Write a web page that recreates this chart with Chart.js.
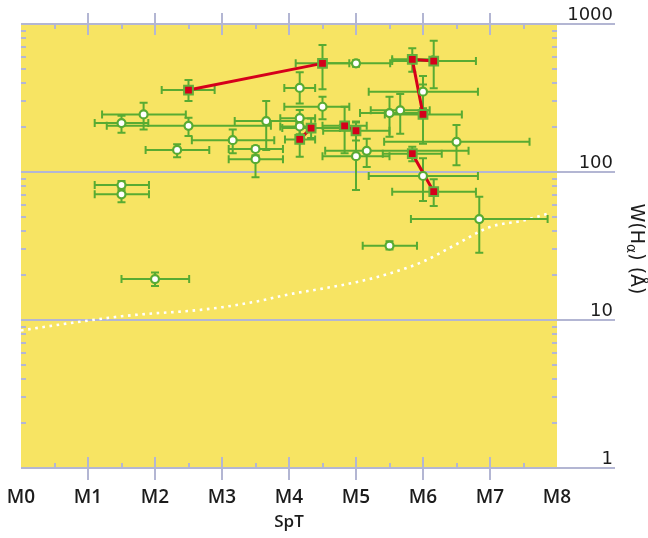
<!DOCTYPE html>
<html>
<head>
<meta charset="utf-8">
<script src="https://cdn.jsdelivr.net/npm/chart.js@4.4.1/dist/chart.umd.min.js"></script>
<style>
  html, body { margin: 0; padding: 0; background: #ffffff; }
  #wrap { width: 648px; height: 538px; }
</style>
</head>
<body>
<div id="wrap"><canvas id="chart" width="648" height="538"></canvas></div>
<script>
// Spectral type axis (M0 ... M8) and equivalent-width axis ticks
const spectralLabels = ['M0', 'M1', 'M2', 'M3', 'M4', 'M5', 'M6', 'M7', 'M8'];
const ewTicks = [1, 10, 100, 1000];

// Single-epoch objects: spectral type, W(Halpha) and their error ranges
const singleSpT   = [1.50, 1.83, 2.50, 2.33, 3.16, 3.50, 3.50, 3.66, 4.16, 4.16, 4.16, 4.50, 5.00, 6.00, 5.50, 5.66, 6.50, 5.16, 5.00, 6.00, 6.84, 5.50, 1.50, 1.50, 2.00];
const singleSpTLo = [1.10, 1.21, 1.28, 1.86, 2.55, 3.10, 3.10, 3.19, 3.93, 3.87, 3.87, 3.93, 4.49, 5.19, 5.06, 5.22, 5.42, 4.54, 4.50, 5.19, 5.82, 5.10, 1.10, 1.10, 1.50];
const singleSpTHi = [1.90, 2.46, 3.73, 2.81, 3.78, 3.91, 3.91, 4.11, 4.39, 4.39, 4.39, 4.90, 5.51, 6.82, 5.94, 6.10, 7.59, 6.68, 5.50, 6.82, 7.86, 5.91, 1.91, 1.91, 2.51];
const singleEW    = [214, 245, 205, 141, 164, 143, 122, 221, 370, 231, 203, 276, 542, 349, 250, 261, 160, 139, 128, 94, 48.1, 31.8, 81.7, 70.7, 18.9];
const singleEWLo  = [184, 194, 175, 126, 134, 130, 92, 141, 290, 205, 180, 227, 515, 270, 173, 181, 111, 108, 75.5, 63.7, 28.5, 30.0, 77.0, 62.4, 17.0];
const singleEWHi  = [240, 294, 233, 154, 194, 150, 128, 302, 472, 262, 229, 323, 570, 445, 323, 337, 208, 168, 216, 124, 68.0, 34.0, 87.0, 75.0, 20.9];

// Multi-epoch objects (joined by red tracks)
const multiSpT   = [2.50, 4.50, 5.84, 6.16, 6.00, 4.16, 4.33, 4.83, 5.00, 5.84, 6.16];
const multiSpTLo = [2.10, 4.10, 5.54, 5.54, 5.43, 3.94, 3.90, 4.50, 4.51, 5.40, 5.54];
const multiSpTHi = [2.89, 4.90, 6.14, 6.79, 6.58, 4.39, 4.76, 5.16, 5.50, 6.28, 6.79];
const multiEW    = [358, 542, 577, 562, 245, 166, 198, 205, 190, 133, 73.6];
const multiEWLo  = [302, 362, 476, 368, 155, 127, 170, 134, 163, 118, 58.9];
const multiEWHi  = [419, 721, 685, 771, 390, 216, 230, 276, 219, 148, 89.3];
const multiTracks = [[0, 1], [3, 2, 4], [5, 6], [7, 8], [9, 10]];

// Accretion threshold curve
const limitSpT = [0, 0.5, 1, 1.5, 2, 2.5, 3, 3.5, 4, 4.5, 5, 5.5, 6, 6.5, 7, 7.5, 7.85];
const limitEW  = [8.5, 9.2, 9.9, 10.6, 11.1, 11.5, 12.2, 13.3, 14.9, 16.3, 18.0, 20.6, 24.8, 32.5, 42.5, 47.0, 52.0];

const PLOT_BG = '#f7e463';
const GRID = '#b3b6d3';
const GREEN = '#58ab32';
const SQUARE_EDGE = '#62b03a';
const RED = '#d5001b';
const TEXT = '#1c1c1c';
const TICK_FONT = { family: '"DejaVu Sans"', size: 18 };

// y labels sit above the grid lines, right-aligned at the end of the grid extension
const measureCtx = document.createElement('canvas').getContext('2d');
measureCtx.font = 'normal 18px "DejaVu Sans"';
const widestYLabel = Math.max(...ewTicks.map(v => measureCtx.measureText(String(v)).width));
const GRID_EXT = 58;
const Y_LABEL_END = 56;

const pts = (xs, ys) => xs.map((x, i) => ({ x, y: ys[i] }));

const trackSets = multiTracks.map(track => ({
  label: 'track',
  data: track.map(i => ({ x: multiSpT[i], y: multiEW[i] })),
  showLine: true,
  borderColor: RED,
  borderWidth: 3,
  pointRadius: 0,
  fill: false
}));

const datasets = [
  {
    label: 'single',
    data: pts(singleSpT, singleEW),
    pointStyle: 'circle',
    pointRadius: 4,
    pointBorderWidth: 2.2,
    pointBackgroundColor: '#ffffff',
    pointBorderColor: GREEN,
    showLine: false
  },
  {
    label: 'multi',
    data: pts(multiSpT, multiEW),
    pointStyle: 'rect',
    pointRadius: 6.2,
    pointBorderWidth: 2,
    pointBackgroundColor: RED,
    pointBorderColor: SQUARE_EDGE,
    showLine: false
  },
  ...trackSets,
  {
    label: 'limit',
    data: pts(limitSpT, limitEW),
    showLine: true,
    borderColor: '#ffffff',
    borderWidth: 2.6,
    borderDash: [2.6, 4.6],
    borderCapStyle: 'butt',
    cubicInterpolationMode: 'monotone',
    pointRadius: 0,
    fill: false
  }
];
const limitIndex = datasets.length - 1;

function drawErrorBars(chart) {
  const { ctx, scales: { x: xs, y: ys } } = chart;
  const cap = 4;
  ctx.save();
  ctx.strokeStyle = GREEN;
  ctx.lineWidth = 2;
  ctx.lineCap = 'butt';
  const one = (x, xl, xh, y, yl, yh) => {
    const px = xs.getPixelForValue(x), py = ys.getPixelForValue(y);
    const pxl = xs.getPixelForValue(xl), pxh = xs.getPixelForValue(xh);
    const pyl = ys.getPixelForValue(yl), pyh = ys.getPixelForValue(yh);
    ctx.beginPath();
    ctx.moveTo(pxl, py); ctx.lineTo(pxh, py);
    ctx.moveTo(pxl, py - cap); ctx.lineTo(pxl, py + cap);
    ctx.moveTo(pxh, py - cap); ctx.lineTo(pxh, py + cap);
    ctx.moveTo(px, pyl); ctx.lineTo(px, pyh);
    ctx.moveTo(px - cap, pyl); ctx.lineTo(px + cap, pyl);
    ctx.moveTo(px - cap, pyh); ctx.lineTo(px + cap, pyh);
    ctx.stroke();
  };
  singleSpT.forEach((x, i) => one(x, singleSpTLo[i], singleSpTHi[i], singleEW[i], singleEWLo[i], singleEWHi[i]));
  multiSpT.forEach((x, i) => one(x, multiSpTLo[i], multiSpTHi[i], multiEW[i], multiEWLo[i], multiEWHi[i]));
  ctx.restore();
}

function drawFrameTicks(chart) {
  const { ctx, chartArea: a, scales: { x: xs, y: ys } } = chart;
  const top = ys.getPixelForValue(ewTicks[ewTicks.length - 1]);
  const bottom = ys.getPixelForValue(ewTicks[0]);
  ctx.save();
  ctx.strokeStyle = GRID;
  ctx.lineWidth = 2;
  ctx.beginPath();
  // decade lines continue past the plot towards their labels
  ewTicks.forEach(v => {
    const py = Math.round(ys.getPixelForValue(v));
    ctx.moveTo(a.right - 1, py); ctx.lineTo(a.right + GRID_EXT, py);
  });
  for (let i = 1; i < spectralLabels.length - 1; i++) {
    const px = Math.round(xs.getPixelForValue(i));
    ctx.moveTo(px, top - 11); ctx.lineTo(px, top + 11);
    ctx.moveTo(px, bottom - 11); ctx.lineTo(px, bottom + 12);
  }
  for (let i = 0; i < spectralLabels.length - 1; i++) {
    const px = Math.round(xs.getPixelForValue(i + 0.5));
    ctx.moveTo(px, top); ctx.lineTo(px, top + 5);
    ctx.moveTo(px, bottom - 5); ctx.lineTo(px, bottom);
  }
  for (let d = 0; d < ewTicks.length - 1; d++) {
    for (let m = 2; m <= 9; m++) {
      const py = Math.round(ys.getPixelForValue(ewTicks[d] * m));
      ctx.moveTo(a.left, py); ctx.lineTo(a.left + 5, py);
      ctx.moveTo(a.right - 5, py); ctx.lineTo(a.right, py);
    }
  }
  ctx.stroke();
  ctx.restore();
}

function drawYTitle(chart) {
  const { ctx, chartArea: a } = chart;
  const main = 'normal 19px "DejaVu Sans"';
  const sub = 'normal 14px "DejaVu Sans"';
  const parts = [['W(H', main, 0], ['\u03B1', sub, 5], [') (\u00C5)', main, 0]];
  ctx.save();
  let total = 0;
  parts.forEach(p => { ctx.font = p[1]; p.push(ctx.measureText(p[0]).width); total += p[3]; });
  ctx.translate(a.right + 79, (a.top + a.bottom) / 2 + 3);
  ctx.rotate(Math.PI / 2);
  ctx.fillStyle = TEXT;
  ctx.textBaseline = 'middle';
  ctx.textAlign = 'left';
  let x = -total / 2;
  parts.forEach(p => { ctx.font = p[1]; ctx.fillText(p[0], x, p[2]); x += p[3]; });
  ctx.restore();
}

const frame = {
  id: 'frame',
  beforeDraw(chart) {
    const { ctx, chartArea: a } = chart;
    ctx.save();
    ctx.fillStyle = PLOT_BG;
    ctx.fillRect(a.left, a.top, a.right - a.left, a.bottom - a.top);
    ctx.restore();
  },
  beforeDatasetsDraw(chart) { drawFrameTicks(chart); },
  afterDatasetDraw(chart, args) { if (args.index === limitIndex) drawErrorBars(chart); },
  afterDraw(chart) { drawYTitle(chart); }
};

new Chart(document.getElementById('chart'), {
  type: 'scatter',
  data: { datasets },
  plugins: [frame],
  options: {
    responsive: false,
    devicePixelRatio: 1,
    animation: false,
    events: [],
    layout: { padding: { top: 24, left: 21, right: 35, bottom: 0 } },
    plugins: { legend: { display: false }, tooltip: { enabled: false } },
    scales: {
      x: {
        type: 'linear',
        position: 'bottom',
        min: 0,
        max: spectralLabels.length - 1,
        afterBuildTicks: s => { s.ticks = spectralLabels.map((_, i) => ({ value: i })); },
        grid: { display: false, drawTicks: true, tickLength: 18, tickColor: 'transparent' },
        border: { display: false },
        ticks: {
          autoSkip: false,
          maxRotation: 0,
          padding: 0,
          color: TEXT,
          font: { family: '"Open Sans"', size: 19, weight: 600 },
          callback: v => spectralLabels[v]
        },
        title: {
          display: true,
          text: 'SpT',
          color: TEXT,
          font: { family: '"Open Sans"', size: 17, weight: 600 },
          padding: { top: 3, bottom: 5.8 }
        }
      },
      y: {
        type: 'logarithmic',
        position: 'right',
        min: ewTicks[0],
        max: ewTicks[ewTicks.length - 1],
        afterBuildTicks: s => { s.ticks = ewTicks.map(v => ({ value: v, major: true })); },
        grid: {
          display: true, color: GRID, lineWidth: 2,
          drawTicks: true, tickLength: Y_LABEL_END - widestYLabel, tickColor: 'transparent'
        },
        border: { display: false },
        ticks: {
          autoSkip: false,
          crossAlign: 'far',
          padding: 0,
          labelOffset: -9,
          color: TEXT,
          font: TICK_FONT,
          callback: v => String(v)
        },
        title: { display: false }
      }
    }
  }
});
</script>
</body>
</html>
